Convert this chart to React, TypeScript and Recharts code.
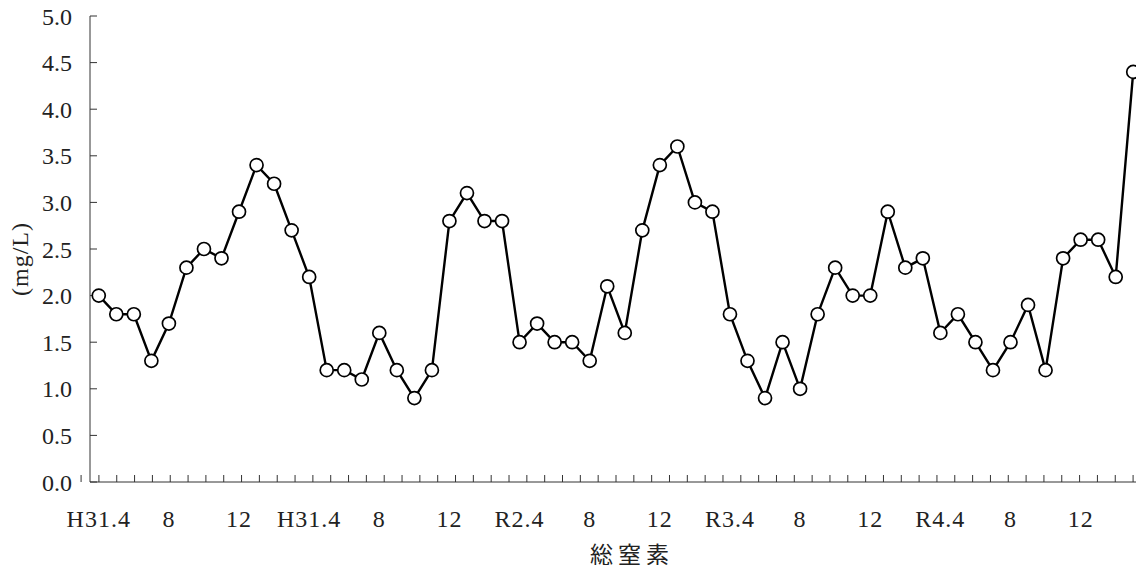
import { LineChart, Line, XAxis, YAxis } from 'recharts'

// 総窒素 monthly values (mg/L), H31.4 onwards
const values = [
  2.0, 1.8, 1.8, 1.3, 1.7, 2.3, 2.5, 2.4, 2.9, 3.4, 3.2, 2.7,
  2.2, 1.2, 1.2, 1.1, 1.6, 1.2, 0.9, 1.2, 2.8, 3.1, 2.8, 2.8,
  1.5, 1.7, 1.5, 1.5, 1.3, 2.1, 1.6, 2.7, 3.4, 3.6, 3.0, 2.9,
  1.8, 1.3, 0.9, 1.5, 1.0, 1.8, 2.3, 2.0, 2.0, 2.9, 2.3, 2.4,
  1.6, 1.8, 1.5, 1.2, 1.5, 1.9, 1.2, 2.4, 2.6, 2.6, 2.2, 4.4,
]
const labelIdx = [0, 4, 8, 12, 16, 20, 24, 28, 32, 36, 40, 44, 48, 52, 56]
const labels = ['H31.4', '8', '12', 'H31.4', '8', '12', 'R2.4', '8', '12', 'R3.4', '8', '12', 'R4.4', '8', '12']
const yTicks = [0, 0.5, 1, 1.5, 2, 2.5, 3, 3.5, 4, 4.5, 5]

const data = values.map((v, i) => ({ i, v }))
// tick marks sit on the month boundaries
const edges = values.map((_, i) => i - 0.5).concat(values.length - 0.5)
const xDomain = [-0.5, values.length - 0.5]

const serif = "'Liberation Serif', 'DejaVu Serif', serif"

function YTitle({ viewBox }: any) {
  if (!viewBox) return null
  const cx = viewBox.x + 20
  const cy = viewBox.y + viewBox.height / 2 + 10
  return (
    <text x={cx} y={cy} transform={`rotate(-90 ${cx} ${cy})`} textAnchor="middle" dominantBaseline="central"
      fill="#222" fontSize={24} letterSpacing={1} fontFamily={serif}>
      (mg/L)
    </text>
  )
}

function XTitle({ viewBox }: any) {
  if (!viewBox) return null
  return (
    <text x={viewBox.x + viewBox.width / 2 + 16} y={viewBox.y + 71} textAnchor="middle" dominantBaseline="central"
      fill="#222" fontSize={23} letterSpacing={5} fontFamily="'Noto Sans CJK JP', sans-serif">
      総窒素
    </text>
  )
}

export default function App() {
  return (
    <div style={{ margin: -8 }}>
      <LineChart width={1144} height={573} data={data} margin={{ top: 16, right: 2, bottom: 0, left: 0 }}>
        <XAxis
          dataKey="i"
          type="number"
          domain={xDomain}
          allowDataOverflow
          ticks={labelIdx}
          interval={0}
          tickFormatter={(i) => labels[labelIdx.indexOf(i)] ?? ''}
          tickLine={false}
          tickSize={0}
          tickMargin={28}
          height={91}
          stroke="#333"
          tick={{ fill: '#222', fontSize: 24, fontFamily: serif, letterSpacing: 1 }}
          label={<XTitle />}
        />
        <XAxis
          xAxisId="m"
          type="number"
          domain={xDomain}
          allowDataOverflow
          ticks={edges}
          interval={0}
          mirror
          axisLine={false}
          tickSize={7}
          tickFormatter={() => ''}
          stroke="#333"
        />
        <YAxis
          type="number"
          domain={[0, 5]}
          allowDataOverflow
          ticks={yTicks}
          interval={0}
          tickFormatter={(v) => v.toFixed(1)}
          tickLine={false}
          tickSize={8}
          tickMargin={10}
          width={90}
          stroke="#333"
          tick={{ fill: '#222', fontSize: 24, fontFamily: serif }}
          label={<YTitle />}
        />
        <YAxis
          yAxisId="m"
          type="number"
          domain={[0, 5]}
          allowDataOverflow
          ticks={yTicks}
          interval={0}
          mirror
          axisLine={false}
          tickSize={7}
          tickFormatter={() => ''}
          stroke="#333"
        />
        <Line
          type="linear"
          dataKey="v"
          stroke="#000"
          strokeWidth={2.4}
          dot={{ r: 6.5, fill: '#fff', stroke: '#000', strokeWidth: 1.7 }}
          isAnimationActive={false}
        />
      </LineChart>
    </div>
  )
}
